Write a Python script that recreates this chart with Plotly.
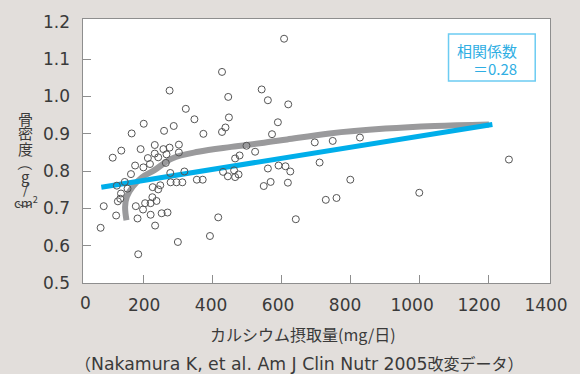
import plotly.graph_objects as go

# ---- data (calcium intake mg/day vs bone density g/cm2) ----
calcium = [608, 428, 276, 446, 543, 561, 620, 323, 348, 448, 201, 288, 260, 166, 374, 428, 438, 590, 573,
           233, 192, 136, 111, 213, 243, 233, 258, 276, 303, 303, 267, 265, 219, 200, 176, 164, 278, 319,
           123, 146, 154, 135, 126, 133, 85, 121, 76, 185, 227, 243, 249, 279, 296, 313, 355, 372,
           226, 238, 221, 205, 178, 199, 221, 183, 234, 253, 270, 300, 393, 417,
           431, 445, 463, 466, 476, 499, 524, 479, 466, 561, 592, 612, 626, 569, 549, 619,
           697, 749, 828, 711, 800, 729, 760, 1000, 642, 1260]
bone_density = [1.155, 1.066, 1.016, 0.999, 1.019, 0.990, 0.979, 0.967, 0.939, 0.944, 0.927, 0.921, 0.908, 0.901, 0.900, 0.905, 0.917, 0.931, 0.899,
                0.870, 0.859, 0.855, 0.836, 0.835, 0.837, 0.847, 0.859, 0.863, 0.871, 0.850, 0.845, 0.822, 0.819, 0.810, 0.815, 0.792, 0.795, 0.799,
                0.761, 0.771, 0.753, 0.740, 0.719, 0.726, 0.706, 0.681, 0.648, 0.577, 0.757, 0.751, 0.762, 0.770, 0.770, 0.770, 0.777, 0.777,
                0.730, 0.720, 0.714, 0.714, 0.706, 0.697, 0.683, 0.673, 0.654, 0.687, 0.689, 0.610, 0.626, 0.676,
                0.798, 0.786, 0.802, 0.784, 0.791, 0.868, 0.852, 0.842, 0.834, 0.807, 0.815, 0.813, 0.799, 0.771, 0.760, 0.769,
                0.877, 0.881, 0.890, 0.823, 0.777, 0.723, 0.728, 0.742, 0.671, 0.831]

# regression line (blue)
reg_x = [78, 1212]
reg_y = [0.757, 0.925]

# smoothed trend curve (gray)
trend_x = [151, 147, 152, 169, 197, 231, 283, 359, 455, 550, 617, 740, 902, 1045, 1202]
trend_y = [0.668, 0.704, 0.731, 0.758, 0.784, 0.802, 0.834, 0.852, 0.865, 0.876, 0.885, 0.901, 0.914, 0.921, 0.925]

x_tick_marks = [200, 400, 600, 800, 1000, 1200]
x_label_vals = [200, 400, 600, 800, 1000, 1200, 1400]
x_label_text = ["200", "400", "600", "800", "1000", "1200", "1400"]
y_tick_marks = [0.6, 0.7, 0.8, 0.9, 1.0, 1.1]
y_label_vals = [0.5, 0.6, 0.7, 0.8, 0.9, 1.0, 1.1, 1.2]
y_label_text = ["0.5", "0.6", "0.7", "0.8", "0.9", "1.0", "1.1", "1.2"]

x_title = "カルシウム摂取量(mg/日)"
source_open = "（"
source_latin = "Nakamura K, et al. Am J Clin Nutr 2005"
source_cjk = "改変データ）"
corr_line1 = "相関係数"
corr_line2 = "＝0.28"

# ---- figure ----
BG = "#E2DEDB"
FRAME = "#8E8E8E"
TXT = "#3A3A3A"
BLUE = "#00AEEA"
BLUE_TXT = "#2FAEE3"
CJK = "Noto Sans CJK JP"
NUM = "DejaVu Sans"

fig = go.Figure()
fig.add_trace(go.Scatter(x=trend_x, y=trend_y, mode="lines",
                         line=dict(color="#9A9A9C", width=6, shape="spline", smoothing=1.0),
                         hoverinfo="skip", showlegend=False))
fig.add_trace(go.Scatter(x=reg_x, y=reg_y, mode="lines",
                         line=dict(color=BLUE, width=5),
                         hoverinfo="skip", showlegend=False))
fig.add_trace(go.Scatter(x=calcium, y=bone_density, mode="markers",
                         marker=dict(symbol="circle-open", size=7, color="#555555",
                                     line=dict(width=1)),
                         showlegend=False))
# invisible trace on label axes so they render
fig.add_trace(go.Scatter(x=[700], y=[0.8], xaxis="x2", yaxis="y2", mode="markers",
                         marker=dict(opacity=0), hoverinfo="skip", showlegend=False))

fig.update_layout(
    width=580, height=374,
    margin=dict(l=83, r=23, t=19, b=91),
    paper_bgcolor=BG, plot_bgcolor="white",
    font=dict(family=NUM, color=TXT, size=17),
    xaxis=dict(range=[24.9, 1379.1], tickvals=x_tick_marks, ticks="inside", ticklen=8,
               tickcolor=FRAME, tickwidth=1, showticklabels=False,
               showline=True, linecolor=FRAME, linewidth=1, mirror=True,
               showgrid=False, zeroline=False),
    yaxis=dict(range=[0.5, 1.2079], tickvals=y_tick_marks, ticks="inside", ticklen=8,
               tickcolor=FRAME, tickwidth=1, showticklabels=False,
               showline=True, linecolor=FRAME, linewidth=1, mirror=True,
               showgrid=False, zeroline=False),
    xaxis2=dict(overlaying="x", anchor="y", side="bottom", range=[17.6, 1411.8],
                tickvals=x_label_vals, ticktext=x_label_text, ticks="",
                showline=False, showgrid=False, zeroline=False,
                tickfont=dict(family=NUM, size=17, color=TXT), ticklabelstandoff=10),
    yaxis2=dict(overlaying="y", anchor="x", side="left", range=[0.5, 1.2079],
                tickvals=y_label_vals, ticktext=y_label_text, ticks="",
                showline=False, showgrid=False, zeroline=False,
                tickfont=dict(family=NUM, size=17, color=TXT), ticklabelstandoff=12),
)

# "0" label on x axis
fig.add_annotation(text="0", xref="paper", yref="paper", x=0.0063, y=-0.074,
                   xanchor="center", yanchor="middle", showarrow=False,
                   font=dict(family=NUM, size=17, color=TXT))

# x title and source
fig.add_annotation(text=x_title, xref="paper", yref="paper", x=(306 - 83) / 474, y=-0.193,
                   xanchor="center", yanchor="middle", showarrow=False,
                   font=dict(family=CJK, size=16, color=TXT))
cjk_span = '<span style="font-family:\'Noto Sans CJK JP\';font-size:16px">{}</span>'
source_html = cjk_span.format(source_open) + source_latin + cjk_span.format(source_cjk)
fig.add_annotation(text=source_html, xref="paper", yref="paper", x=(303 - 83) / 474, y=(283 - 363) / 264,
                   xanchor="center", yanchor="middle", showarrow=False,
                   font=dict(family=NUM, size=17.3, color=TXT))

# vertical y title, stacked characters
ytitle_parts = [("骨", 118.3, 0, 15), ("密", 132.7, 0, 15), ("度", 148.3, 0, 15),
                ("（", 163.5, 90, 15), ("g", 176, 0, 15), ("/", 188, 0, 14),
                ("cm<sup>2</sup>", 201.5, 0, 13), ("）", 210, 90, 15)]
for t, ypx, ang, fs in ytitle_parts:
    fig.add_annotation(text=t, xref="paper", yref="paper",
                       x=(25 - 83) / 474, y=(283 - ypx) / 264,
                       xanchor="center", yanchor="middle", showarrow=False, textangle=ang,
                       font=dict(family=CJK, size=fs, color=TXT))

# correlation box
fig.add_shape(type="rect", xref="paper", yref="paper",
              x0=(454 - 83) / 474, x1=(542 - 83) / 474,
              y0=(283 - 81) / 264, y1=(283 - 34) / 264,
              line=dict(color="#6CCCF2", width=1.5), fillcolor="white")
fig.add_annotation(text=corr_line1, xref="paper", yref="paper",
                   x=(526 - 83) / 474, y=(283 - 50.5) / 264,
                   xanchor="right", yanchor="middle", showarrow=False,
                   font=dict(family=CJK, size=15, color=BLUE_TXT))
fig.add_annotation(text=corr_line2, xref="paper", yref="paper",
                   x=(526 - 83) / 474, y=(283 - 68.5) / 264,
                   xanchor="right", yanchor="middle", showarrow=False,
                   font=dict(family=CJK, size=15, color=BLUE_TXT))

fig.write_html("out.html", config={"displayModeBar": False},
               post_script="document.body.style.margin='0';document.body.style.padding='0';"
                           "document.documentElement.style.overflow='hidden';")
